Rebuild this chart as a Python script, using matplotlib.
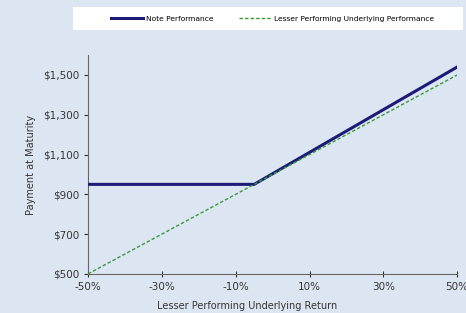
import matplotlib.pyplot as plt
from matplotlib.patches import Rectangle
from matplotlib.ticker import FuncFormatter

note_x = [-50, -5, 50]
note_y = [950, 950, 1540]
under_x = [-50, 50]
under_y = [500, 1500]
xticks = [-50, -30, -10, 10, 30, 50]
yticks = [500, 700, 900, 1100, 1300, 1500]

bg = "#dce6f2"
fig = plt.figure(figsize=(4.66, 3.13), dpi=100, facecolor=bg)
ax = fig.add_axes([0.189, 0.125, 0.792, 0.699], facecolor=bg)

ax.plot(note_x, note_y, color="#1c1c78", lw=2.2, label="Note Performance", zorder=3)
ax.plot(under_x, under_y, color="#3a9a3a", lw=1.0, ls=(0, (2.5, 1.5)),
        label="Lesser Performing Underlying Performance", zorder=4)

ax.set_xlim(-50, 50)
ax.set_ylim(500, 1600)
ax.set_xticks(xticks)
ax.set_yticks(yticks)
ax.xaxis.set_major_formatter(FuncFormatter(lambda v, p: f"{v:.0f}%"))
ax.yaxis.set_major_formatter(FuncFormatter(lambda v, p: f"${v:,.0f}"))
ax.tick_params(labelsize=7.5, colors="#333333", length=3, width=0.8)
ax.tick_params(axis="x", direction="inout", length=5)
for s in ["top", "right"]:
    ax.spines[s].set_visible(False)
for s in ["left", "bottom"]:
    ax.spines[s].set_color("#666666")
    ax.spines[s].set_linewidth(0.8)

ax.set_xlabel("Lesser Performing Underlying Return", fontsize=7, color="#333333")
ax.xaxis.set_label_coords(0.43, -0.125)
ax.set_ylabel("Payment at Maturity", fontsize=7, color="#333333", labelpad=5)

# white legend band
fig.patches.append(Rectangle((0.157, 0.904), 0.837, 0.074, transform=fig.transFigure,
                             facecolor="white", edgecolor="none", zorder=0))
fig.legend(loc="center", bbox_to_anchor=(0.585, 0.941), ncol=2, fontsize=5.4,
           frameon=False, handlelength=4.2, columnspacing=3.5, handletextpad=0.4)

fig.savefig("out.png", dpi=100, facecolor=bg)
